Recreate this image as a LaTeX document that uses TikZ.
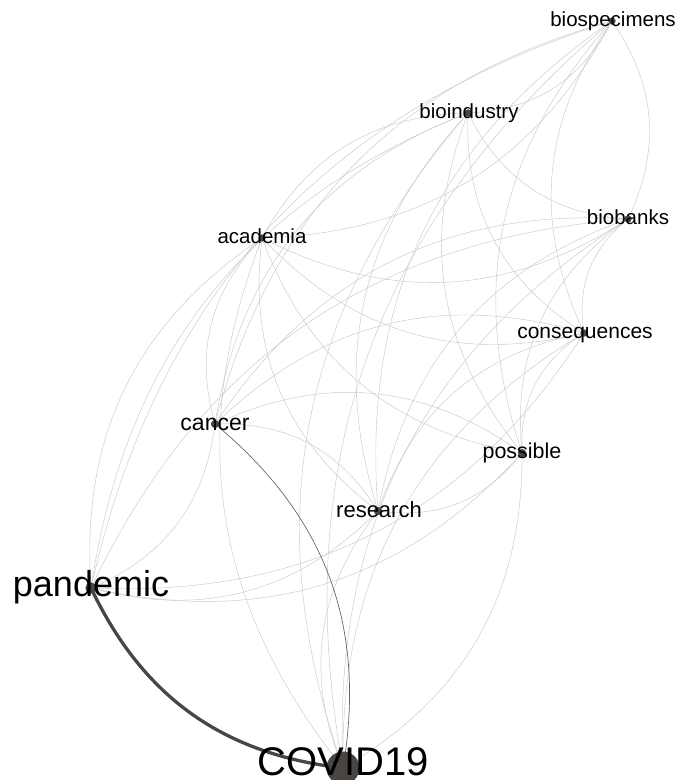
\documentclass[tikz,border=0pt]{standalone}
\usepackage{fontspec}
\setmainfont{Liberation Sans}
\definecolor{nodecol}{RGB}{74,69,64}
\definecolor{edgecol}{RGB}{200,200,200}
\definecolor{midedge}{RGB}{105,102,98}
\tikzset{
  dot/.style={circle,fill=nodecol,inner sep=0pt,draw=none},
  lab/.style={inner sep=0pt,anchor=base,text=black},
  edge/.style={draw=edgecol,line width=0.45pt},
  midlink/.style={draw=midedge,line width=0.7pt},
  heavylink/.style={draw=nodecol,line width=3.3pt},
}
\begin{document}
\begin{tikzpicture}[x=1pt,y=1pt]
\useasboundingbox (0,0) rectangle (680,-780);
\clip (0,0) rectangle (680,-780);
% dots (node positions)
\node[dot,minimum size=8pt] (cov) at (343,-768) {};
\node[dot,minimum size=11pt] (pan) at (91,-588) {};
\node[dot,minimum size=8pt] (can) at (215,-424) {};
\node[dot,minimum size=8pt] (res) at (378,-511) {};
\node[dot,minimum size=8pt] (pos) at (522,-453) {};
\node[dot,minimum size=7pt] (con) at (584,-333) {};
\node[dot,minimum size=7pt] (bbk) at (628,-219) {};
\node[dot,minimum size=7pt] (bin) at (468,-113) {};
\node[dot,minimum size=7pt] (bsp) at (612,-21) {};
\node[dot,minimum size=7pt] (aca) at (262,-238) {};
% light edges
\foreach \a/\b in {can/pos,can/res,can/con,can/pan,can/bsp,can/bbk,can/aca,can/bin,
  pos/cov,pos/res,pos/con,pos/pan,pos/bsp,pos/bbk,pos/aca,pos/bin,
  cov/res,cov/con,cov/bsp,cov/bbk,cov/aca,cov/bin,
  res/con,res/pan,res/bsp,res/bbk,res/aca,res/bin,
  con/pan,con/bsp,con/bbk,con/aca,con/bin,
  pan/bsp,pan/bbk,pan/aca,pan/bin,
  bsp/bbk,bsp/aca,bsp/bin,
  bbk/aca,bbk/bin,
  aca/bin}
  \draw[edge] (\a.center) to[bend left=30] (\b.center);
\draw[midlink] (can.center) to[bend left=30] (cov.center);
\draw[heavylink] (cov.center) to[bend left=29] (pan.center);
% redraw dots on top of edges
\foreach \n/\s in {cov/33,pan/11,can/8,res/8,pos/8,con/7,bbk/7,bin/7,bsp/7,aca/7}
  \fill[nodecol] (\n.center) circle[radius=\s/2];
% labels
\node[lab,font=\fontsize{40}{40}\selectfont] (cov-l) at (343,-775) {COVID19};
\node[lab,font=\fontsize{36}{36}\selectfont] (pan-l) at (91,-596) {pandemic};
\node[lab,font=\fontsize{23}{23}\selectfont] (can-l) at (215,-430) {cancer};
\node[lab,font=\fontsize{22}{22}\selectfont] (res-l) at (379,-517) {research};
\node[lab,font=\fontsize{21.5}{21.5}\selectfont] (pos-l) at (522,-458) {possible};
\node[lab,font=\fontsize{21}{21}\selectfont] (con-l) at (585,-338) {consequences};
\node[lab,font=\fontsize{20.5}{20.5}\selectfont] (bbk-l) at (628,-224) {biobanks};
\node[lab,font=\fontsize{20.5}{20.5}\selectfont] (bin-l) at (469,-118) {bioindustry};
\node[lab,font=\fontsize{20.5}{20.5}\selectfont] (bsp-l) at (613,-26) {biospecimens};
\node[lab,font=\fontsize{20.5}{20.5}\selectfont] (aca-l) at (262,-243) {academia};
\end{tikzpicture}
\end{document}
